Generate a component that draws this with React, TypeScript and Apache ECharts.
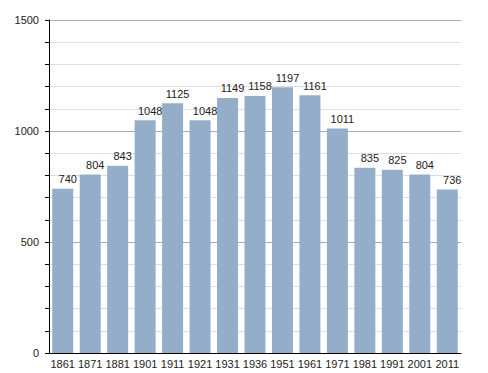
import React, { useEffect, useRef } from "react";
import * as echarts from "echarts";

const categories = ["1861", "1871", "1881", "1901", "1911", "1921", "1931", "1936", "1951", "1961", "1971", "1981", "1991", "2001", "2011"];
const population = [740, 804, 843, 1048, 1125, 1048, 1149, 1158, 1197, 1161, 1011, 835, 825, 804, 736];

export default function App() {
  const ref = useRef<HTMLDivElement>(null);
  useEffect(() => {
    const chart = echarts.init(ref.current!, null, { renderer: "svg" });
    const font = "'Liberation Sans', Arial, sans-serif";
    chart.setOption({
      animation: false,
      backgroundColor: "#ffffff",
      grid: { left: 49, right: 27, top: 20, bottom: 20 },
      xAxis: {
        type: "category",
        data: categories,
        axisLine: { show: true, lineStyle: { color: "#000", width: 1 } },
        axisTick: { show: false },
        axisLabel: { color: "#222", fontSize: 11, fontFamily: font, margin: 5, interval: 0 },
        z: 5,
      },
      yAxis: {
        type: "value",
        min: 0,
        max: 1500,
        interval: 500,
        axisLine: { show: true, lineStyle: { color: "#000", width: 1 } },
        axisTick: { show: true, length: 4, lineStyle: { color: "#000" } },
        minorTick: { show: true, splitNumber: 5, length: 4, lineStyle: { color: "#000" } },
        splitLine: { show: true, lineStyle: { color: "#aaaaaa", width: 1 } },
        minorSplitLine: { show: true, lineStyle: { color: "#dedede", width: 1 } },
        axisLabel: { color: "#222", fontSize: 11, fontFamily: font, margin: 10, formatter: (v: number) => String(v) },
      },
      series: [
        {
          type: "bar",
          data: population,
          barWidth: 21,
          itemStyle: { color: "#94aec9" },
          label: {
            show: true,
            position: "top",
            distance: 4,
            offset: [5, 0],
            color: "#222",
            fontSize: 11,
            fontFamily: font,
          },
        },
      ],
    });
    return () => chart.dispose();
  }, []);
  return <div ref={ref} style={{ position: "fixed", left: 0, top: 0, width: 488, height: 373 }} />;
}
